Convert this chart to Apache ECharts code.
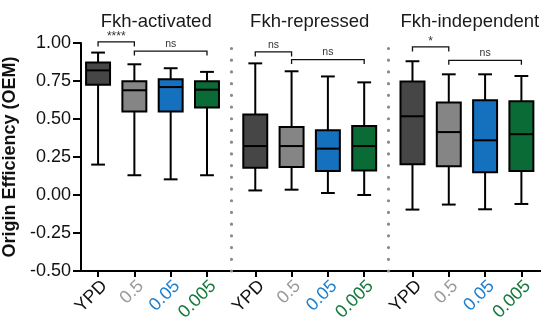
<!DOCTYPE html>
<html><head><meta charset="utf-8">
<script src="https://cdn.jsdelivr.net/npm/echarts@6/dist/echarts.min.js"></script>
<style>html,body{margin:0;padding:0;background:#fff}#c{width:541px;height:322px}</style>
</head><body><div id="c"></div>
<script>
// ---- data ----
const groups = ['Fkh-activated', 'Fkh-repressed', 'Fkh-independent'];
const conditions = ['YPD', '0.5', '0.05', '0.005'];
// each row: [min, Q1, median, Q3, max]
const activated = [
  [0.20, 0.726, 0.820, 0.871, 0.937],
  [0.13, 0.550, 0.689, 0.748, 0.860],
  [0.103, 0.550, 0.710, 0.761, 0.834],
  [0.13, 0.575, 0.693, 0.748, 0.810]
];
const repressed = [
  [0.030, 0.180, 0.322, 0.529, 0.866],
  [0.035, 0.184, 0.322, 0.447, 0.814],
  [0.013, 0.158, 0.305, 0.426, 0.780],
  [0.000, 0.162, 0.322, 0.454, 0.741]
];
const independent = [
  [-0.096, 0.202, 0.518, 0.746, 0.880],
  [-0.063, 0.189, 0.414, 0.608, 0.794],
  [-0.094, 0.149, 0.360, 0.623, 0.794],
  [-0.059, 0.158, 0.400, 0.616, 0.783]
];
const yTickValues = [-0.5, -0.25, 0, 0.25, 0.5, 0.75, 1.0];
// significance comparisons: [group, fromCondition, toCondition, label]
const sigTests = [
  [0, 0, 1, '****'], [0, 1, 3, 'ns'],
  [1, 0, 1, 'ns'], [1, 1, 3, 'ns'],
  [2, 0, 1, '*'], [2, 1, 3, 'ns']
];

// ---- layout / style ----
const GROUP_STEP = 4.33;
const boxColors = ['#464646', '#858585', '#1570be', '#0a6b36'];
const labelColors = ['#111111', '#9a9a9a', '#1f80d0', '#137a3b'];
const sigLevels = [1.007, 0.947, 0.941, 0.891, 0.974, 0.886];
const titleShift = [0.1, 0, 0.08];
const FONT = '"Liberation Sans", Arial, Helvetica, sans-serif';

const pos = (g, i) => g * GROUP_STEP + i;
const allGroups = [activated, repressed, independent];
const boxData = [];
const tickPos = [];
allGroups.forEach((grp, g) => grp.forEach((row, i) => {
  boxData.push([pos(g, i)].concat(row).concat([i]));
  tickPos.push(pos(g, i));
}));
const sepPos = [pos(1, 0) - (GROUP_STEP - 3) / 2, pos(2, 0) - (GROUP_STEP - 3) / 2];

const rich = {};
labelColors.forEach((c, i) => { rich['c' + i] = { color: c, fontSize: 18, fontFamily: FONT }; });

const chart = echarts.init(document.getElementById('c'), null, { renderer: 'canvas' });
const lineStyle = { stroke: '#000', lineWidth: 2 };

chart.setOption({
  animation: false,
  backgroundColor: '#fff',
  grid: { left: 81, right: 0, top: 43, bottom: 51, containLabel: false, outerBoundsMode: 'none' },
  xAxis: {
    type: 'value', min: -0.47, max: 12.2,
    splitLine: { show: false },
    axisLine: { show: true, onZero: false, lineStyle: { color: '#000', width: 2 } },
    axisTick: { show: true, customValues: tickPos, length: 6, lineStyle: { color: '#000', width: 2 } },
    axisLabel: {
      customValues: tickPos, rotate: 45, margin: 6, rich: rich, verticalAlign: 'top',
      formatter: function (v) {
        let k = tickPos.findIndex(p => Math.abs(p - v) < 1e-6);
        const ci = k < 0 ? 0 : k % 4;
        return '{c' + ci + '|' + conditions[ci] + '}';
      }
    }
  },
  yAxis: {
    type: 'value', min: -0.5, max: 1.0, interval: 0.25,
    name: 'Origin Efficiency (OEM)', nameLocation: 'middle', nameGap: 49,
    nameTextStyle: { fontSize: 18, fontWeight: 'bold', color: '#111', fontFamily: FONT },
    splitLine: { show: false },
    axisLine: { show: true, onZero: false, lineStyle: { color: '#000', width: 2 } },
    axisTick: { show: true, length: 8, lineStyle: { color: '#000', width: 2 } },
    axisLabel: { fontSize: 18, color: '#111', margin: 10, fontFamily: FONT,
      formatter: v => v.toFixed(2) }
  },
  series: [
    {
      type: 'custom', name: 'boxes', clip: false,
      data: boxData,
      encode: { x: 0, y: [1, 2, 3, 4, 5] },
      renderItem: function (params, api) {
        const x = api.value(0);
        const ci = api.value(6);
        const pMin = api.coord([x, api.value(1)]);
        const pQ1 = api.coord([x, api.value(2)]);
        const pMed = api.coord([x, api.value(3)]);
        const pQ3 = api.coord([x, api.value(4)]);
        const pMax = api.coord([x, api.value(5)]);
        const bw = api.size([0.66, 0])[0];
        const cw = api.size([0.38, 0])[0];
        const cx = pMed[0];
        return { type: 'group', children: [
          { type: 'line', shape: { x1: cx, y1: pMax[1], x2: cx, y2: pQ3[1] }, style: lineStyle },
          { type: 'line', shape: { x1: cx, y1: pQ1[1], x2: cx, y2: pMin[1] }, style: lineStyle },
          { type: 'line', shape: { x1: cx - cw / 2, y1: pMax[1], x2: cx + cw / 2, y2: pMax[1] }, style: lineStyle },
          { type: 'line', shape: { x1: cx - cw / 2, y1: pMin[1], x2: cx + cw / 2, y2: pMin[1] }, style: lineStyle },
          { type: 'rect', shape: { x: cx - bw / 2, y: pQ3[1], width: bw, height: pQ1[1] - pQ3[1] },
            style: { fill: boxColors[ci], stroke: '#000', lineWidth: 2 } },
          { type: 'line', shape: { x1: cx - bw / 2, y1: pMed[1], x2: cx + bw / 2, y2: pMed[1] }, style: lineStyle }
        ]};
      },
      markLine: {
        silent: true, symbol: 'none', label: { show: false },
        lineStyle: { color: '#8a8a8a', width: 3.2, type: [0.01, 11.7], cap: 'round' },
        data: sepPos.map(p => ({ xAxis: p }))
      }
    },
    {
      type: 'custom', name: 'significance', clip: false, silent: true,
      data: sigTests.map((t, k) => [pos(t[0], t[1]), pos(t[0], t[2]), sigLevels[k]]),
      renderItem: function (params, api) {
        const a = api.coord([api.value(0), api.value(2)]);
        const b = api.coord([api.value(1), api.value(2)]);
        const y = a[1];
        const lab = sigTests[params.dataIndex][3];
        return { type: 'group', children: [
          { type: 'polyline', shape: { points: [[a[0], y + 4.5], [a[0], y], [b[0], y], [b[0], y + 4.5]] },
            style: { stroke: '#111', lineWidth: 1.3, fill: null } },
          { type: 'text', style: { text: lab, x: (a[0] + b[0]) / 2, y: lab.indexOf('*') >= 0 ? y + 1 : y - 1.5,
            align: 'center', verticalAlign: 'bottom', fontSize: lab.indexOf('*') >= 0 ? 12 : 10.5,
            fontFamily: FONT, fill: '#333' } }
        ]};
      }
    },
    {
      type: 'custom', name: 'titles', clip: false, silent: true,
      data: groups.map((g, i) => [pos(i, 1.5) + titleShift[i], 1.138]),
      renderItem: function (params, api) {
        const p = api.coord([api.value(0), api.value(1)]);
        return { type: 'text', style: { text: groups[params.dataIndex], x: p[0], y: p[1],
          align: 'center', verticalAlign: 'middle', fontSize: 18.5, fontFamily: FONT, fill: '#1a1a1a' } };
      }
    }
  ]
});
</script></body></html>
